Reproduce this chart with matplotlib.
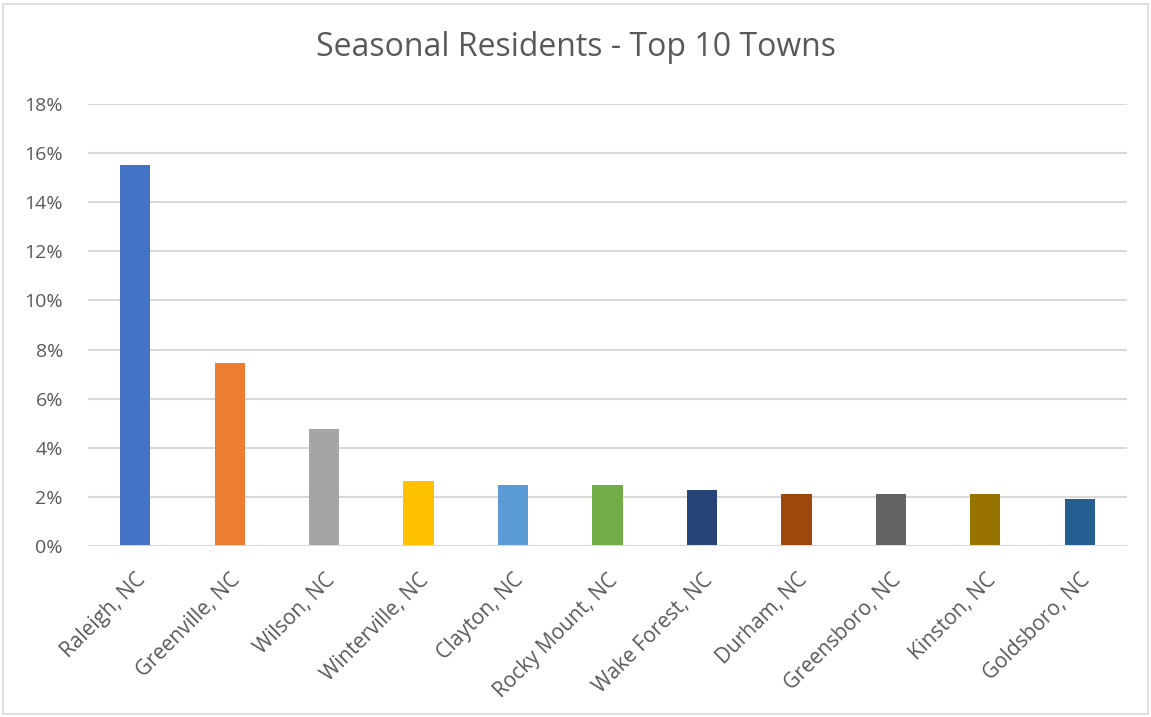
import matplotlib.pyplot as plt
import matplotlib.patches as patches
from matplotlib.ticker import PercentFormatter

towns = ["Raleigh, NC", "Greenville, NC", "Wilson, NC", "Winterville, NC",
         "Clayton, NC", "Rocky Mount, NC", "Wake Forest, NC", "Durham, NC",
         "Greensboro, NC", "Kinston, NC", "Goldsboro, NC"]
share = [0.1553, 0.0747, 0.0477, 0.0265, 0.0249, 0.0250, 0.0230,
         0.0210, 0.0210, 0.0210, 0.0193]
bar_colors = ["#4472C4", "#ED7D31", "#A5A5A5", "#FFC000", "#5B9BD5", "#70AD47",
              "#264478", "#9E480E", "#636363", "#997300", "#255E91"]
yticks = [0, 0.02, 0.04, 0.06, 0.08, 0.10, 0.12, 0.14, 0.16, 0.18]

text_col = "#595959"
grid_col = "#D9D9D9"
plt.rcParams['font.family'] = ['Open Sans', 'DejaVu Sans']

W, H = 1151, 717
fig = plt.figure(figsize=(W / 100, H / 100), dpi=100)
ax = fig.add_axes([88 / W, (H - 546) / H, (1127 - 88) / W, (546 - 104) / H])

# chart frame
fig.patches.append(patches.Rectangle((3 / W, 3 / H), (W - 6) / W, (H - 7) / H,
                                     transform=fig.transFigure, fill=False,
                                     edgecolor=grid_col, linewidth=1.2))

x = range(len(towns))
ax.bar(x, share, width=0.32, color=bar_colors, zorder=3)

ax.set_xlim(-0.5, len(towns) - 0.5)
ax.set_ylim(0, 0.18)
ax.set_yticks(yticks)
ax.yaxis.set_major_formatter(PercentFormatter(1.0, decimals=0))
ax.grid(axis='y', color=grid_col, linewidth=1.5, zorder=0)
ax.axhline(0, color=grid_col, linewidth=2.2, zorder=4)

for s in ax.spines.values():
    s.set_visible(False)
ax.tick_params(axis='both', length=0, colors=text_col)
ax.tick_params(axis='y', pad=18, labelsize=14)
ax.set_xticks(list(x))
ax.set_xticklabels(towns, rotation=45, ha='right', rotation_mode='anchor')
ax.tick_params(axis='x', pad=17, labelsize=15)

fig.text(0.5, (H - 56) / H, "Seasonal Residents - Top 10 Towns", ha='center',
         va='baseline', fontsize=23, color=text_col)

fig.savefig("out.png", dpi=100)
